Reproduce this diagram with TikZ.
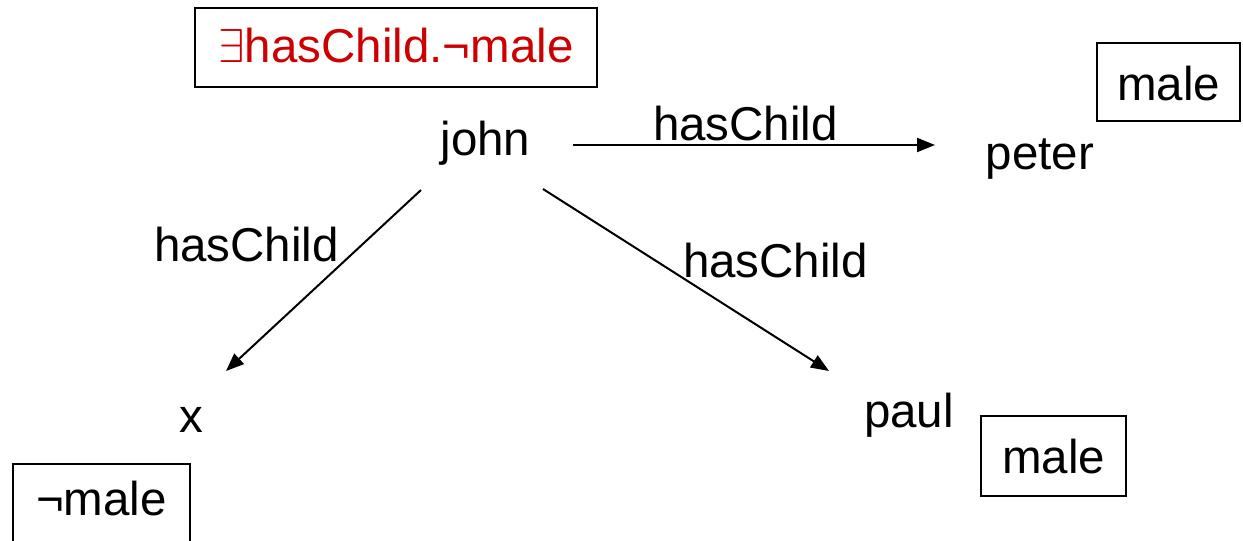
\documentclass[tikz,border=0pt]{standalone}
\usepackage{fix-cm}
\usepackage{fontspec}
\setmainfont{Liberation Sans}
\usetikzlibrary{arrows.meta,calc}
\definecolor{conceptred}{HTML}{CC0000}

\tikzset{
  lbl/.style={inner sep=0pt, anchor=base},
  concept/.style={draw, line width=1.6pt, inner sep=0pt, minimum width=#1,
                  text height=34pt, text depth=5pt},
  rel/.style={line width=2pt, -{Triangle[length=18pt,width=14pt]}},
}

\begin{document}
\begin{tikzpicture}[x=1pt, y=-1pt, font=\fontsize{47.5}{57}\selectfont]
  \clip (0,0) rectangle (1243,541);
  \fill[white] (0,0) rectangle (1243,541);

  % individuals
  \node[lbl] (john)  at (485.5,155) {john};
  \node[lbl] (peter) at (1040,169)  {peter};
  \node[lbl] (paul)  at (909,427)   {paul};
  \node[lbl] (x)     at (191,432)   {x};

  % concept assertions
  \node[concept=402pt, minimum height=79pt, text=conceptred] (exists)
       at (396,47.5) {$\exists$hasChild.¬male};
  \node[concept=143pt, minimum height=78pt, text depth=0pt, text height=36pt] (peterm)
       at (1168.5,82) {male};
  \node[concept=145pt, minimum height=80pt, text depth=0pt] (paulm)
       at (1053.5,456) {male};
  \node[concept=177pt, minimum height=80pt, text depth=12pt] (xm)
       at (101.5,504) {¬male};

  % role assertions
  \draw[rel] ($(john.base)+(87.5,-10)$) -- ($(peter.base)+(-105,-24)$);
  \draw[rel] ($(john.base)+(-64.5,35)$) -- ($(x.base)+(35,-61)$);
  \draw[rel] ($(john.base)+(57.5,34)$)  -- ($(paul.base)+(-80,-56)$);

  \node[lbl] (r1) at (745.5,140) {hasChild};
  \node[lbl] (r2) at (246.5,261) {hasChild};
  \node[lbl] (r3) at (775.5,277) {hasChild};
\end{tikzpicture}
\end{document}
